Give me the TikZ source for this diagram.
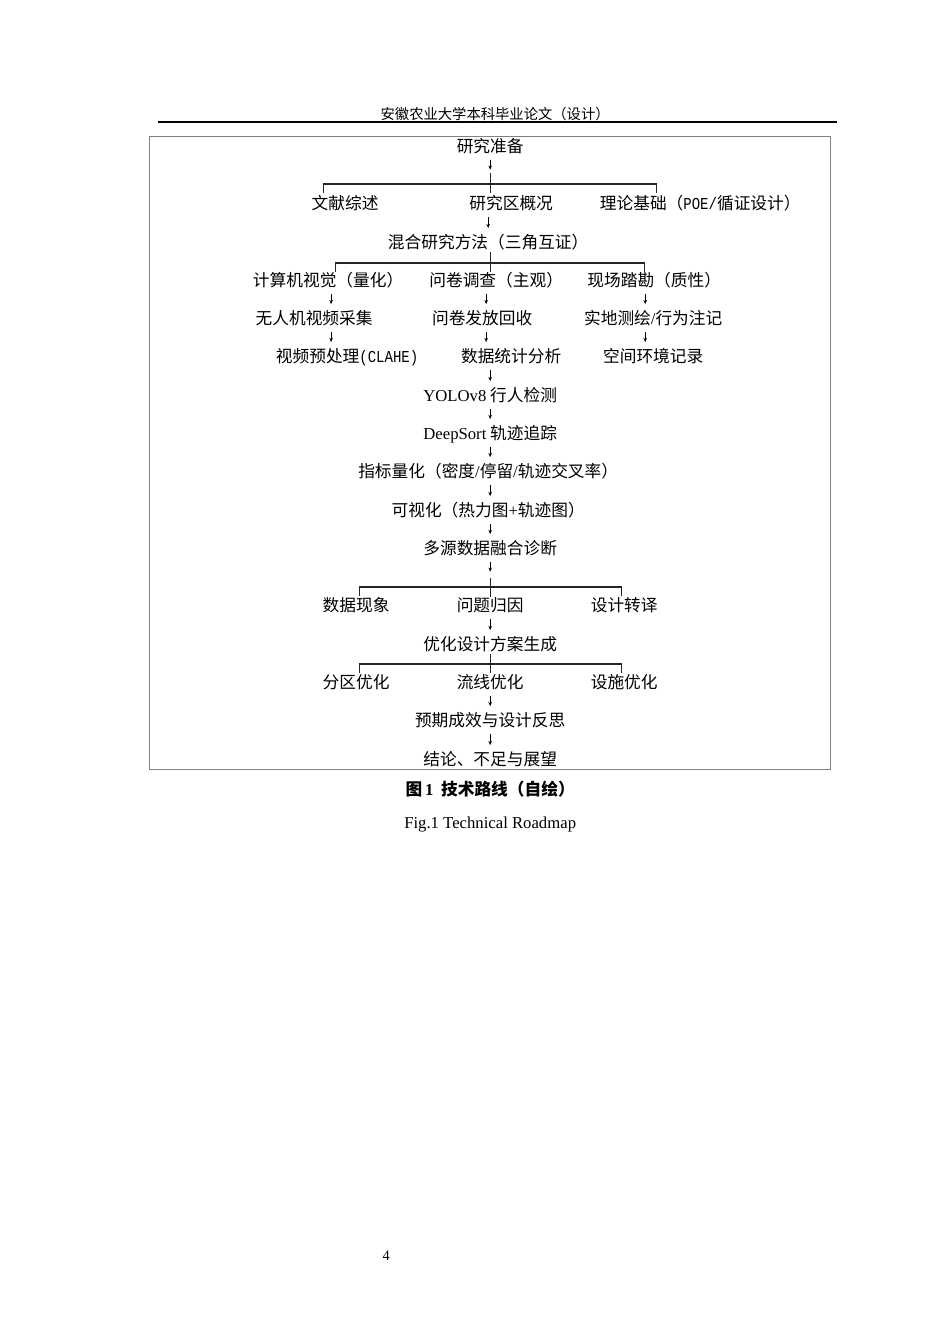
\documentclass[tikz,border=0pt]{standalone}
\usepackage{fontspec}
\setmainfont{Liberation Serif}
\newfontfamily\cjk{Noto Sans CJK SC}
\newfontfamily\asc{Liberation Mono}[FakeStretch=0.84]
\usetikzlibrary{arrows.meta}
\newcommand{\wuhao}{\fontsize{10.5pt}{12pt}\selectfont}
\newcommand{\xiaowu}{\fontsize{9pt}{11pt}\selectfont}
\newcommand{\en}[1]{{\rmfamily #1}}

\begin{document}
\begin{tikzpicture}[x=0.22105mm,y=-0.22098mm,
   txt/.style={font=\wuhao\cjk,inner sep=0pt,text height=0.88em,text depth=0.12em},
   arr/.style={-{Stealth[length=2.6pt,width=2.2pt]},line width=0.45pt},
   link/.style={arr,shorten <=1.25mm,shorten >=1.25mm},
   brk/.style={line width=0.7pt,black!85}]
   \useasboundingbox (0,0) rectangle (950,1344);
   \node[txt,font=\xiaowu\cjk] (head) at (495,113) {安徽农业大学本科毕业论文（设计）};
   \draw[line width=0.9pt] (158,122) -- (837,122);
   \draw[gray,line width=0.6pt] (149,136) rectangle (830,769);
   \node[txt] (prep) at (490,146) {研究准备};
   \node[txt] (lit)  at (345,203) {文献综述};
   \node[txt] (area) at (511,203) {研究区概况};
   \node[txt] (theo) at (700,203) {理论基础（{\asc POE/}循证设计）};
   \node[txt] (mix)  at (488,242) {混合研究方法（三角互证）};
   \node[txt] (cv)   at (328,280) {计算机视觉（量化）};
   \node[txt] (qs)   at (496,280) {问卷调查（主观）};
   \node[txt] (site) at (654,280) {现场踏勘（质性）};
   \node[txt] (uav)  at (314,318) {无人机视频采集};
   \node[txt] (qd)   at (482,318) {问卷发放回收};
   \node[txt] (map)  at (653,318) {实地测绘\en{/}行为注记};
   \node[txt] (pre)  at (347,356) {视频预处理{\asc(CLAHE)}};
   \node[txt] (stat) at (511,356) {数据统计分析};
   \node[txt] (env)  at (653,356) {空间环境记录};
   \node[txt] (yolo) at (490,395) {\en{YOLOv8} 行人检测};
   \node[txt] (deep) at (490,433) {\en{DeepSort} 轨迹追踪};
   \node[txt] (ind)  at (488,471) {指标量化（密度\en{/}停留\en{/}轨迹交叉率）};
   \node[txt] (vis)  at (488,510) {可视化（热力图\en{+}轨迹图）};
   \node[txt] (fuse) at (490,548) {多源数据融合诊断};
   \node[txt] (phen) at (356,605) {数据现象};
   \node[txt] (cause) at (490,605) {问题归因};
   \node[txt] (trans) at (624,605) {设计转译};
   \node[txt] (opt)  at (490,644) {优化设计方案生成};
   \node[txt] (zone) at (356,682) {分区优化};
   \node[txt] (flow) at (490,682) {流线优化};
   \node[txt] (fac)  at (624,682) {设施优化};
   \node[txt] (eff)  at (490,720) {预期成效与设计反思};
   \node[txt] (conc) at (490,759) {结论、不足与展望};
   \node[txt,font=\wuhao\cjk\bfseries] (cap) at (490,789) {图\,\en{1}\ \ 技术路线（自绘）};
   \node[txt,font=\wuhao\rmfamily] (capen) at (490,822) {Fig.1 Technical Roadmap};
   \node[txt,font=\xiaowu\rmfamily] (page) at (386,1254) {4};
   % brackets
   \coordinate (b1) at (490,184); \coordinate (b1l) at (323,184); \coordinate (b1r) at (656,184);
   \coordinate (b2) at (490,263); \coordinate (b2l) at (335,263); \coordinate (b2r) at (644,263);
   \coordinate (b3) at (490,587); \coordinate (b3l) at (359,587); \coordinate (b3r) at (621,587);
   \coordinate (b4) at (490,664); \coordinate (b4l) at (359,664); \coordinate (b4r) at (621,664);
   \draw[arr] ([yshift=-1.2mm]prep.south) -- ++(0,10);
   \draw[brk] (b1) ++(0,-11) -- ++(0,20);
   \draw[brk] ([yshift=-2mm]b1l) -- (b1l) -- (b1r) -- ([yshift=-2mm]b1r);
   \draw[link] (mix.north |- area.south) -- (mix.north);
   \draw[brk] (b2) ++(0,-11) -- ++(0,20);
   \draw[brk] ([yshift=-2mm]b2l) -- (b2l) -- (b2r) -- ([yshift=-2mm]b2r);
   % three columns
   \coordinate (colA) at (331,0); \coordinate (colB) at (486,0); \coordinate (colC) at (645,0);
   \draw[link] (cv.south -| colA) -- (uav.north -| colA);
   \draw[link] (uav.south -| colA) -- (pre.north -| colA);
   \draw[link] (qs.south -| colB) -- (qd.north -| colB);
   \draw[link] (qd.south -| colB) -- (stat.north -| colB);
   \draw[link] (site.south -| colC) -- (map.north -| colC);
   \draw[link] (map.south -| colC) -- (env.north -| colC);
   \draw[link] (yolo.north |- stat.south) -- (yolo.north);
   \draw[link] (yolo) -- (deep);
   \draw[link] (deep.south) -- (deep.south |- ind.north);
   \draw[link] (deep.south |- ind.south) -- (deep.south |- vis.north);
   \draw[link] (deep.south |- vis.south) -- (fuse.north);
   \draw[arr] ([yshift=-1.2mm]fuse.south) -- ++(0,10);
   \draw[brk] (b3) ++(0,-9) -- ++(0,19);
   \draw[brk] ([yshift=-2mm]b3l) -- (b3l) -- (b3r) -- ([yshift=-2mm]b3r);
   \draw[link] (cause) -- (opt);
   \draw[brk] (b4) ++(0,-10) -- ++(0,19);
   \draw[brk] ([yshift=-2mm]b4l) -- (b4l) -- (b4r) -- ([yshift=-2mm]b4r);
   \draw[link] (flow) -- (eff);
   \draw[link] (eff) -- (conc);
\end{tikzpicture}
\end{document}
